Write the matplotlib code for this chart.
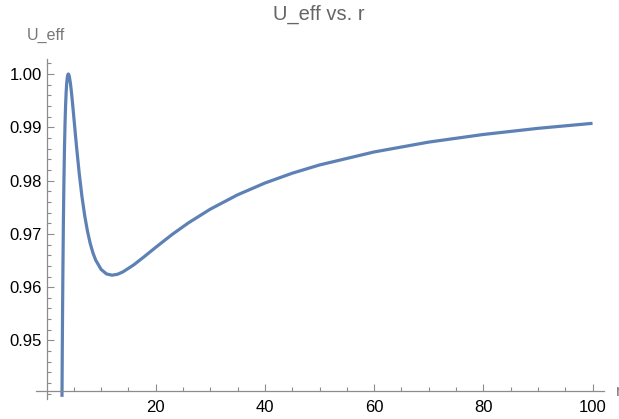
"""U_eff vs. r chart."""

import matplotlib
matplotlib.use("Agg")
import matplotlib.pyplot as plt
from matplotlib.ticker import FixedLocator, NullFormatter

plt.rcParams['font.family'] = ['Liberation Sans', 'DejaVu Sans']

# values
r_vals = [2.84, 2.9, 2.95, 3.0, 3.1, 3.2, 3.3, 3.4, 3.5, 3.6, 3.7, 3.8, 3.9, 4.0,
          4.1, 4.2, 4.4, 4.6, 4.8, 5.0, 5.5, 6.0, 6.5, 7.0, 7.5, 8.0, 8.5, 9.0,
          10, 11, 12, 13, 14, 16, 18, 20, 23, 26, 30, 35, 40, 45, 50, 60, 70,
          80, 90, 100]
u_vals = [0.93942, 0.94909, 0.95609, 0.96225, 0.97243, 0.98027, 0.98627, 0.99080,
          0.99415, 0.99656, 0.99822, 0.99927, 0.99983, 1.00000, 0.99986, 0.99946,
          0.99812, 0.99630, 0.99420, 0.99197, 0.98638, 0.98131, 0.97698, 0.97341,
          0.97053, 0.96825, 0.96646, 0.96510, 0.96333, 0.96248, 0.96225, 0.96242,
          0.96287, 0.96420, 0.96581, 0.96747, 0.96988, 0.97207, 0.97464, 0.97733,
          0.97954, 0.98138, 0.98293, 0.98537, 0.98722, 0.98865, 0.98980, 0.99074]

x_major = [20, 40, 60, 80, 100]
x_minor = [5, 10, 15, 25, 30, 35, 45, 50, 55, 65, 70, 75, 85, 90, 95]
y_major = [0.95, 0.96, 0.97, 0.98, 0.99, 1.00]
y_labels = ['0.95', '0.96', '0.97', '0.98', '0.99', '1.00']
y_minor = [0.940, 0.942, 0.944, 0.946, 0.948, 0.952, 0.954, 0.956, 0.958,
           0.962, 0.964, 0.966, 0.968, 0.972, 0.974, 0.976, 0.978,
           0.982, 0.984, 0.986, 0.988, 0.992, 0.994, 0.996, 0.998, 1.002]

axis_gray = '#8c8c8c'

fig = plt.figure(figsize=(6.19, 4.19), dpi=100)
ax = fig.add_axes([36 / 619, 1 - 399 / 419, 568 / 619, 340 / 419])

ax.plot(r_vals, u_vals, color='#5E81B5', linewidth=2.3, solid_capstyle='butt')

ax.set_xlim(-1.92, 102.1)
ax.set_ylim(0.93902, 1.00281)

for side in ['top', 'right']:
    ax.spines[side].set_visible(False)
ax.spines['left'].set_position(('data', 0.18))
ax.spines['bottom'].set_position(('data', 0.9406))
for side in ['left', 'bottom']:
    ax.spines[side].set_color(axis_gray)
    ax.spines[side].set_linewidth(0.9)

ax.xaxis.set_major_locator(FixedLocator(x_major))
ax.xaxis.set_minor_locator(FixedLocator(x_minor))
ax.set_yticks(y_major)
ax.set_yticklabels(y_labels)
ax.yaxis.set_minor_locator(FixedLocator(y_minor))
ax.yaxis.set_minor_formatter(NullFormatter())

ax.tick_params(which='both', direction='in', color=axis_gray, width=0.8,
               labelsize=12, labelcolor='black')
ax.tick_params(which='major', length=5)
ax.tick_params(which='minor', length=3)
ax.tick_params(axis='x', pad=7)
ax.tick_params(axis='y', pad=4)

fig.text(319 / 619, 1 - 14 / 419, 'U_eff vs. r', ha='center', va='center',
         fontsize=14.5, color='#666666')
fig.text(46 / 619, 1 - 35 / 419, 'U_eff', ha='center', va='center',
         fontsize=11.5, color='#777777')
fig.text(616 / 619, 1 - 391 / 419, 'r', ha='left', va='center',
         fontsize=11.5, color='#777777')

fig.savefig('out.png', dpi=100)
plt.close(fig)
